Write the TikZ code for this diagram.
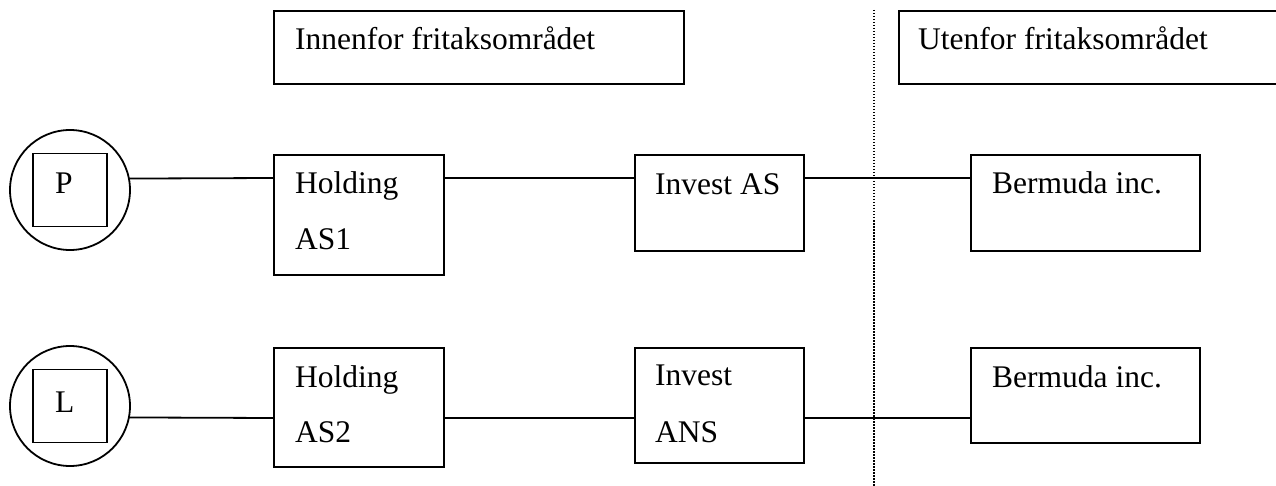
\documentclass[tikz,border=0pt]{standalone}
\usepackage{fontspec}
\setmainfont{Liberation Serif}
\begin{document}
\begin{tikzpicture}[x=1pt,y=-1pt,
  box/.style={draw,line width=1.8pt,rectangle,inner sep=0pt,anchor=north west},
  ring/.style={draw,line width=1.8pt,circle,inner sep=0pt,outer sep=0pt,minimum size=120pt},
  sq/.style={draw,line width=1.8pt,rectangle,inner sep=0pt,minimum width=74pt,minimum height=73pt},
  lbl/.style={inner sep=0pt,anchor=base west,font=\fontsize{31.5}{36}\selectfont},
  conn/.style={line width=1.8pt},
  divider/.style={line width=1.5pt,dash pattern=on 1.5pt off 1.5pt}]
\useasboundingbox (0,0) rectangle (1276,486);
\clip (0,0) rectangle (1276,486);
% header boxes
\node[box,minimum width=410pt,minimum height=73pt] (inn) at (273,10) {};
\node[box,minimum width=420pt,minimum height=73pt] (ut) at (898,10) {};
\node[lbl] (tinn) at (295,50) {Innenfor fritaksområdet};
\node[lbl] (tut) at (918,50) {Utenfor fritaksområdet};
% divider
\coordinate (dtop) at (874,10);
\coordinate (dbot) at (874,486);
\draw[divider] (dtop) -- (dbot);
% row 1
\node[ring] (Pc) at (70,190) {};
\node[sq] (Ps) at (70,190) {};
\node[lbl] (tP) at (55,194) {P};
\node[box,minimum width=170pt,minimum height=120pt] (h1) at (273,154) {};
\node[lbl] (th1a) at (295,194) {Holding};
\node[lbl] (th1b) at (295,250) {AS1};
\node[box,minimum width=169pt,minimum height=96pt] (ia) at (634,154) {};
\node[lbl] (tia) at (655,195) {Invest AS};
\node[box,minimum width=229pt,minimum height=96pt] (b1) at (970,154) {};
\node[lbl] (tb1) at (992,194) {Bermuda inc.};
\coordinate (r1) at (0,178);
\draw[conn] (Pc.11.537) -- (h1.west |- r1);
\draw[conn] (h1.east |- r1) -- (ia.west |- r1);
\draw[conn] (ia.east |- r1) -- (b1.west |- r1);
% row 2
\node[ring] (Lc) at (70,406) {};
\node[sq] (Ls) at (70,406) {};
\node[lbl] (tL) at (55,412) {L};
\node[box,minimum width=170pt,minimum height=119pt] (h2) at (273,347) {};
\node[lbl] (th2a) at (295,387) {Holding};
\node[lbl] (th2b) at (295,442) {AS2};
\node[box,minimum width=169pt,minimum height=115pt] (ians) at (634,347) {};
\node[lbl] (tians) at (655,385) {Invest};
\node[lbl] (tiansb) at (655,442) {ANS};
\node[box,minimum width=229pt,minimum height=95pt] (b2) at (970,347) {};
\node[lbl] (tb2) at (992,387) {Bermuda inc.};
\coordinate (r2) at (0,418);
\draw[conn] (Lc.-11.537) -- (h2.west |- r2);
\draw[conn] (h2.east |- r2) -- (ians.west |- r2);
\draw[conn] (ians.east |- r2) -- (b2.west |- r2);
\end{tikzpicture}
\end{document}
